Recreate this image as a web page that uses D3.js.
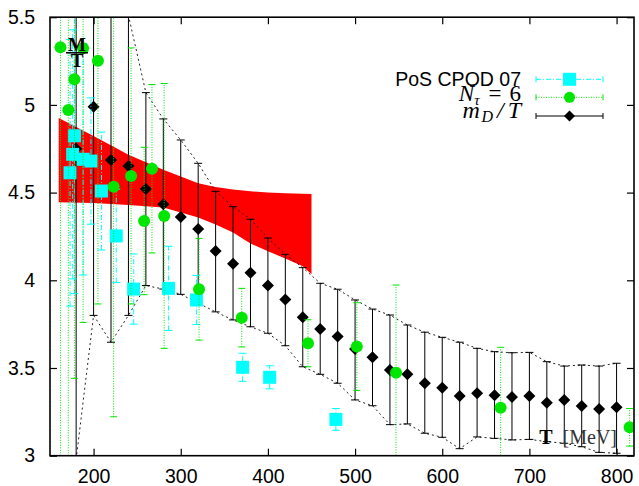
<!DOCTYPE html>
<html>
<head>
<meta charset="utf-8">
<script src="https://cdn.jsdelivr.net/npm/d3@7/dist/d3.min.js"></script>
<style>
body { margin: 0; background: #fff; }
svg { display: block; }
.tick text { font-family: "Liberation Sans", Arial, sans-serif; font-size: 19.5px; fill: #000; }
.sans { font-family: "Liberation Sans", Arial, sans-serif; }
.serif { font-family: "Liberation Serif", "Times New Roman", serif; }
</style>
</head>
<body>
<script>
//m_D/T data (black diamonds), lower/upper ends of the error bars
var mdT   = [180, 200, 220, 240, 260, 280, 300, 320, 340, 360, 380, 400, 420, 440, 460, 480,
             500, 520, 540, 560, 580, 600, 620, 640, 660, 680, 700, 720, 740, 760, 780, 800];
var mdVal = [4.75, 4.99, 4.686, 4.652, 4.521, 4.433, 4.361, 4.293, 4.167, 4.095, 4.043, 3.971, 3.890, 3.790, 3.722, 3.680,
             3.608, 3.561, 3.489, 3.464, 3.413, 3.388, 3.340, 3.356, 3.344, 3.335, 3.340, 3.302, 3.318, 3.283, 3.266, 3.276];
var mdHi  = [8.4, 6.6, 6.1, 5.51, 5.07, 4.92, 4.80, 4.667, 4.507, 4.42, 4.348, 4.241, 4.148, 4.072, 3.983, 3.949,
             3.888, 3.836, 3.802, 3.745, 3.704, 3.675, 3.647, 3.612, 3.593, 3.587, 3.589, 3.536, 3.511, 3.517, 3.511, 3.527];
var mdLo  = [2.98, 3.80, 3.647, 3.80, 3.97, 3.95, 3.92, 3.87, 3.82, 3.774, 3.735, 3.698, 3.627, 3.507, 3.464, 3.413,
             3.318, 3.285, 3.177, 3.181, 3.128, 3.105, 3.040, 3.107, 3.099, 3.090, 3.093, 3.080, 3.071, 3.051, 3.019, 3.014];

//N_tau = 6 (green circles)
var ntT   = [162, 171, 178, 188, 205, 223, 243, 258, 267, 281, 321, 370, 446, 502, 547, 667, 815];
var ntVal = [5.328, 4.971, 5.146, 5.323, 5.252, 4.534, 4.595, 4.338, 4.636, 4.367, 3.949, 3.787, 3.641, 3.622, 3.473, 3.274, 3.162];
var ntErr = [2.5, 2.1, 1.705, 1.563, 1.387, 1.312, 0.73, 0.42, 0.48, 0.755, 0.29, 0.167, 0.134, 0.25, 0.50, 0.344, 0.107];

//PoS CPOD 07 (cyan squares)
var cpT   = [173, 176, 178, 188, 197, 209, 226, 246, 286, 318, 371, 402, 478];
var cpVal = [4.613, 4.718, 4.824, 4.69, 4.68, 4.509, 4.253, 3.950, 3.954, 3.888, 3.504, 3.447, 3.207];
var cpErr = [0.76, 0.71, 0.90, 0.66, 0.36, 0.336, 0.266, 0.20, 0.24, 0.14, 0.08, 0.066, 0.062];

//red band
var bandT  = [160, 200, 240, 280, 320, 340, 360, 380, 400, 420, 440, 450];
var bandHi = [4.925, 4.822, 4.716, 4.63, 4.553, 4.532, 4.518, 4.508, 4.50, 4.496, 4.493, 4.492];
var bandLo = [4.445, 4.44, 4.43, 4.415, 4.358, 4.318, 4.272, 4.21, 4.165, 4.125, 4.08, 4.035];

//axis ticks
var xTicks = [200, 300, 400, 500, 600, 700, 800];
var yTicks = [3, 3.5, 4, 4.5, 5, 5.5];

(function(){

var cyan = "#00ffff", green = "#00e600";

var width = 639, height = 486;
var pLeft = 50, pRight = 634, pTop = 17.2, pBottom = 455.7;

var svg = d3.select("body").append("svg")
    .attr("width", width)
    .attr("height", height);

var x = d3.scaleLinear().domain([150, 820]).range([pLeft, pRight]);
var y = d3.scaleLinear().domain([3, 5.5]).range([pBottom, pTop]);

svg.append("clipPath").attr("id", "plotclip")
    .append("rect")
    .attr("x", pLeft).attr("y", pTop)
    .attr("width", pRight - pLeft).attr("height", pBottom - pTop);

var plot = svg.append("g").attr("clip-path", "url(#plotclip)");

//band
var bandPts = bandT.map(function(t, i){ return [x(t), y(bandHi[i])]; })
    .concat(bandT.map(function(t, i){ return [x(t), y(bandLo[i])]; }).reverse());
plot.append("path")
    .attr("d", d3.line()(bandPts) + "Z")
    .style("fill", "#ff0000");

//dashed envelopes through the caps of m_D/T
var env = d3.line()
    .x(function(d){ return x(d[0]); })
    .y(function(d){ return y(d[1]); });
[mdHi, mdLo].forEach(function(arr){
    plot.append("path")
        .datum(mdT.map(function(t, i){ return [t, arr[i]]; }))
        .attr("d", env)
        .style("fill", "none")
        .style("stroke", "#222")
        .style("stroke-width", 1)
        .style("stroke-dasharray", "2,3");
});

//error bar helper
function errBars(g, T, lo, hi, color, dash, capW){
    var grp = g.append("g")
        .style("stroke", color)
        .style("stroke-width", 1)
        .style("fill", "none");
    T.forEach(function(t, i){
        var cx = x(t);
        grp.append("line")
            .attr("x1", cx).attr("x2", cx)
            .attr("y1", y(lo[i])).attr("y2", y(hi[i]))
            .style("stroke-dasharray", dash);
        [lo[i], hi[i]].forEach(function(v){
            grp.append("line")
                .attr("x1", cx - capW / 2).attr("x2", cx + capW / 2)
                .attr("y1", y(v)).attr("y2", y(v));
        });
    });
}

function diamond(g, cx, cy, r){
    g.append("path")
        .attr("d", "M" + cx + "," + (cy - r) + "L" + (cx + r) + "," + cy + "L" + cx + "," + (cy + r) + "L" + (cx - r) + "," + cy + "Z")
        .style("fill", "#000");
}

//black diamonds
errBars(plot, mdT, mdLo, mdHi, "#000", null, 8);
mdT.forEach(function(t, i){ diamond(plot, x(t), y(mdVal[i]), 6); });

//cyan squares
errBars(plot, cpT,
    cpVal.map(function(v, i){ return v - cpErr[i]; }),
    cpVal.map(function(v, i){ return v + cpErr[i]; }),
    cyan, "5,2,1,2", 8);
plot.selectAll(".cp")
    .data(cpT)
    .enter()
    .append("rect")
    .attr("class", "cp")
    .attr("x", function(d){ return x(d) - 6.5; })
    .attr("y", function(d, i){ return y(cpVal[i]) - 6.5; })
    .attr("width", 13)
    .attr("height", 13)
    .style("fill", cyan);

//green circles
errBars(plot, ntT,
    ntVal.map(function(v, i){ return v - ntErr[i]; }),
    ntVal.map(function(v, i){ return v + ntErr[i]; }),
    green, "1,1.5", 7);
plot.selectAll(".nt")
    .data(ntT)
    .enter()
    .append("circle")
    .attr("class", "nt")
    .attr("cx", function(d){ return x(d); })
    .attr("cy", function(d, i){ return y(ntVal[i]); })
    .attr("r", 6)
    .style("fill", green);

//axes with inward mirror ticks
svg.append("g")
    .attr("transform", "translate(0," + pBottom + ")")
    .call(d3.axisBottom(x).tickValues(xTicks).tickSize(-7).tickPadding(13).tickFormat(d3.format("d")));
svg.append("g")
    .attr("transform", "translate(0," + pTop + ")")
    .call(d3.axisTop(x).tickValues(xTicks).tickSize(-7).tickFormat(""));
svg.append("g")
    .attr("transform", "translate(" + pLeft + ",0)")
    .call(d3.axisLeft(y).tickValues(yTicks).tickSize(-7).tickPadding(15).tickFormat(function(d){ return d; }));
svg.append("g")
    .attr("transform", "translate(" + pRight + ",0)")
    .call(d3.axisRight(y).tickValues(yTicks).tickSize(-7).tickFormat(""));
svg.selectAll(".domain").remove();
svg.selectAll(".tick line").style("stroke", "#000").style("stroke-width", 1.2);

svg.append("rect")
    .attr("x", pLeft).attr("y", pTop)
    .attr("width", pRight - pLeft).attr("height", pBottom - pTop)
    .style("fill", "none")
    .style("stroke", "#000")
    .style("stroke-width", 1.6);

//M/T label
var frac = svg.append("g").attr("class", "serif").style("font-weight", "bold").style("font-size", "19px");
frac.append("text").attr("x", 77).attr("y", 50.5).attr("text-anchor", "middle").text("M");
frac.append("line").attr("x1", 66).attr("x2", 88).attr("y1", 52.8).attr("y2", 52.8)
    .style("stroke", "#000").style("stroke-width", 1.5);
frac.append("text").attr("x", 77).attr("y", 67).attr("text-anchor", "middle").text("T");

//T [MeV] label
var tl = svg.append("text").attr("class", "serif")
    .attr("x", 617).attr("y", 443.5)
    .attr("text-anchor", "end")
    .style("font-size", "20px");
tl.append("tspan").style("font-weight", "bold").text("T");
tl.append("tspan").attr("dx", 10).style("fill", "#333").text("[MeV]");

//legend
var legX1 = 536, legX2 = 603, legMid = 569.5, textEnd = 521;
var legRows = [
    {y: 79.3, color: cyan, dash: "5,2,1,2"},
    {y: 97.3, color: green, dash: "1,1.5"},
    {y: 116, color: "#000", dash: null}
];
legRows.forEach(function(r){
    var g = svg.append("g").style("stroke", r.color).style("stroke-width", 1);
    g.append("line").attr("x1", legX1).attr("x2", legX2).attr("y1", r.y).attr("y2", r.y)
        .style("stroke-dasharray", r.dash);
    [legX1, legX2].forEach(function(px){
        g.append("line").attr("x1", px).attr("x2", px).attr("y1", r.y - 3).attr("y2", r.y + 3);
    });
});
svg.append("rect").attr("x", legMid - 6.5).attr("y", 79.3 - 6.5).attr("width", 13).attr("height", 13).style("fill", cyan);
svg.append("circle").attr("cx", legMid).attr("cy", 97.3).attr("r", 5.5).style("fill", green);
diamond(svg, legMid, 116, 5.5);

svg.append("text").attr("class", "sans")
    .attr("x", textEnd).attr("y", 86)
    .attr("text-anchor", "end")
    .style("font-size", "19.5px")
    .text("PoS CPOD 07");

var l2 = svg.append("text").attr("class", "serif")
    .attr("x", textEnd).attr("y", 100.5)
    .attr("text-anchor", "end")
    .style("font-size", "23px");
l2.append("tspan").style("font-style", "italic").text("N");
l2.append("tspan").attr("dy", 4).style("font-style", "italic").style("font-size", "15px").text("\u03C4");
l2.append("tspan").attr("dy", -4).attr("dx", 9).text("=");
l2.append("tspan").attr("dx", 8).text("6");

var l3 = svg.append("text").attr("class", "serif")
    .attr("x", textEnd).attr("y", 118.3)
    .attr("text-anchor", "end")
    .style("font-size", "24px")
    .style("font-style", "italic");
l3.append("tspan").text("m");
l3.append("tspan").attr("dy", 4).attr("dx", 1.5).style("font-size", "16px").text("D");
l3.append("tspan").attr("dy", -4).attr("dx", 4).text("/");
l3.append("tspan").attr("dx", 4).text("T");

})();
</script>
</body>
</html>
